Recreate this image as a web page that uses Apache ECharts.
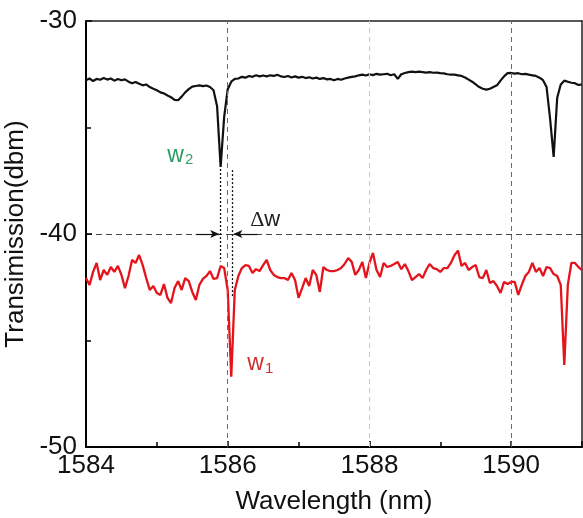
<!DOCTYPE html>
<html><head><meta charset="utf-8">
<script src="https://cdn.jsdelivr.net/npm/echarts@6/dist/echarts.min.js"></script>
<style>html,body{margin:0;padding:0;background:#fff}#c{width:583px;height:518px}</style>
</head><body><div id="c"></div>
<script>
// Sampling grid (nm): 1584 .. 1591 in 0.05 nm steps
const wavelengthStart = 1584;
const wavelengthStep = 0.05;

// Upper (black) trace, dBm
const blackTrace = [
  -32.78,-32.70,-32.82,-32.72,-32.76,-32.68,-32.75,-32.70,-32.80,-32.72,-32.78,
  -32.74,-32.85,-32.92,-32.86,-32.95,-33.02,-32.98,-33.10,-33.18,-33.25,
  -33.35,-33.40,-33.50,-33.58,-33.70,-33.72,-33.55,-33.35,-33.20,-33.08,
  -33.05,-33.02,-33.06,-33.03,-33.10,-33.25,-34.00,-36.85,-34.50,-33.20,
  -32.85,-32.72,-32.70,-32.62,-32.66,-32.58,-32.62,-32.55,-32.60,-32.56,
  -32.60,-32.55,-32.58,-32.52,-32.60,-32.63,-32.58,-32.65,-32.60,-32.66,
  -32.62,-32.68,-32.64,-32.70,-32.66,-32.72,-32.68,-32.74,-32.72,-32.78,
  -32.72,-32.76,-32.70,-32.66,-32.62,-32.60,-32.55,-32.52,-32.56,-32.50,
  -32.54,-32.48,-32.52,-32.50,-32.48,-32.55,-32.50,-32.72,-32.50,-32.44,
  -32.40,-32.38,-32.40,-32.38,-32.40,-32.42,-32.40,-32.43,-32.42,-32.45,
  -32.46,-32.50,-32.52,-32.52,-32.55,-32.58,-32.65,-32.75,-32.85,-32.98,
  -33.10,-33.18,-33.22,-33.18,-33.10,-33.02,-32.80,-32.60,-32.45,-32.44,
  -32.47,-32.45,-32.50,-32.48,-32.52,-32.55,-32.58,-32.66,-32.78,-33.10,
  -34.60,-36.38,-33.60,-32.98,-32.80,-32.85,-32.90,-32.92,-33.00,-32.98
];

// Lower (red) trace, dBm
const redTrace = [
  -42.07,-42.39,-41.78,-41.36,-42.16,-41.69,-41.92,-41.55,-41.78,-41.50,-41.92,
  -42.54,-41.97,-41.22,-41.36,-40.99,-41.46,-42.07,-42.63,-42.44,-42.77,
  -42.86,-42.35,-43.00,-43.24,-42.54,-42.21,-42.63,-42.07,-42.21,-42.72,
  -43.10,-42.39,-42.11,-41.97,-41.74,-42.11,-42.07,-41.50,-41.60,-42.63,
  -46.70,-42.63,-41.97,-41.60,-41.46,-41.50,-41.83,-41.65,-41.74,-41.46,
  -41.22,-41.69,-41.92,-42.02,-42.07,-42.07,-42.16,-41.83,-42.16,-43.00,
  -42.54,-42.07,-42.44,-41.69,-41.92,-42.72,-41.55,-41.69,-41.74,-41.74,
  -41.69,-41.60,-41.41,-41.13,-41.31,-41.92,-41.69,-41.31,-42.07,-41.36,
  -40.89,-41.69,-42.02,-41.36,-41.55,-41.50,-41.41,-41.31,-41.65,-41.41,
  -41.74,-42.16,-42.02,-41.88,-42.07,-41.69,-41.41,-41.60,-41.65,-41.78,
  -41.60,-41.60,-41.36,-41.00,-40.78,-41.50,-41.36,-41.69,-41.55,-41.46,
  -42.02,-42.07,-41.69,-42.30,-42.21,-42.44,-42.77,-42.25,-42.35,-42.25,
  -42.25,-42.86,-42.39,-41.97,-41.78,-41.36,-41.78,-41.60,-41.97,-41.55,
  -41.60,-41.88,-41.97,-42.39,-46.15,-42.39,-41.36,-41.36,-41.55,-41.69
];

// Axis settings
const xRange = [1584, 1591];
const xTickStep = 2;
const yRange = [-50, -30];
const yTickStep = 10;

// Resonance markers (nm) and grid lines
const w2Wavelength = 1585.89;
const w1Wavelength = 1586.07;
const gridWavelengths = [1586, 1588, 1590];

const FONT = "'Liberation Sans', Arial, sans-serif";

function toPairs(values) {
  return values.map((v, i) => [+(wavelengthStart + i * wavelengthStep).toFixed(2), v]);
}

const chart = echarts.init(document.getElementById('c'), null, {renderer: 'canvas'});

const darkDash = {color: '#6a6a6a', type: [5, 4], width: 1};
const lightDash = {color: '#c8c8c8', type: [5, 4], width: 1};
const dotted = {color: '#111', type: [2, 2], width: 1.3};
const arrowStyle = {color: '#111', type: 'solid', width: 1.2};

chart.setOption({
  animation: false,
  backgroundColor: '#fff',
  grid: {left: 86, right: 1, top: 21, bottom: 71, containLabel: false, outerBoundsMode: 'none'},
  xAxis: [{
    type: 'value', min: xRange[0], max: xRange[1], interval: xTickStep,
    position: 'bottom',
    name: 'Wavelength (nm)', nameLocation: 'middle', nameGap: 42,
    nameTextStyle: {fontSize: 26, color: '#111', fontFamily: FONT},
    axisLine: {lineStyle: {color: '#000', width: 2}},
    axisTick: {inside: true, length: 6, lineStyle: {color: '#000', width: 1.5}},
    minorTick: {show: true, splitNumber: 2, length: 5, lineStyle: {color: '#000', width: 1.5}},
    axisLabel: {fontSize: 26, color: '#111', fontFamily: FONT, margin: 6, showMaxLabel: false,
      formatter: v => String(v)},
    splitLine: {show: false}
  }, {
    type: 'value', min: xRange[0], max: xRange[1], position: 'top',
    axisLine: {lineStyle: {color: '#222', width: 1.5}},
    axisTick: {show: false}, axisLabel: {show: false}, splitLine: {show: false}
  }],
  yAxis: [{
    type: 'value', min: yRange[0], max: yRange[1], interval: yTickStep,
    name: 'Transimission(dbm)', nameLocation: 'middle', nameGap: 53,
    nameTextStyle: {fontSize: 26, color: '#111', fontFamily: FONT},
    axisLine: {lineStyle: {color: '#000', width: 2}},
    axisTick: {inside: true, length: 6, lineStyle: {color: '#000', width: 1.5}},
    minorTick: {show: true, splitNumber: 2, length: 5, lineStyle: {color: '#000', width: 1.5}},
    axisLabel: {fontSize: 26, color: '#111', fontFamily: FONT, margin: 9},
    splitLine: {show: true, showMinLine: false, showMaxLine: false,
      lineStyle: {color: '#444', type: [6, 4], width: 1}}
  }, {
    type: 'value', min: yRange[0], max: yRange[1], position: 'right',
    axisLine: {show: true, lineStyle: {color: '#222', width: 1.5}},
    axisTick: {show: false}, axisLabel: {show: false}, splitLine: {show: false}
  }],
  series: [{
    name: 'upper', type: 'line', data: toPairs(blackTrace),
    showSymbol: false, symbol: 'none',
    lineStyle: {color: '#111', width: 2.2},
    z: 3,
    markLine: {
      silent: true, symbol: 'none', animation: false,
      label: {show: false},
      data: [
        {xAxis: gridWavelengths[0], lineStyle: darkDash},
        {xAxis: gridWavelengths[1], lineStyle: lightDash},
        {xAxis: gridWavelengths[2], lineStyle: darkDash},
        [{coord: [w2Wavelength, -36.95], lineStyle: dotted}, {coord: [w2Wavelength, -41.3]}],
        [{coord: [w1Wavelength, -37.0], lineStyle: dotted}, {coord: [w1Wavelength, -43.0]}],
        [{coord: [1585.55, -40], symbol: 'none', lineStyle: arrowStyle},
         {coord: [w2Wavelength - 0.01, -40], symbol: 'arrow', symbolSize: [6, 9]}],
        [{coord: [1586.42, -40], symbol: 'none', lineStyle: arrowStyle},
         {coord: [w1Wavelength + 0.01, -40], symbol: 'arrow', symbolSize: [6, 9]}]
      ]
    },
    markPoint: {
      silent: true, symbol: 'circle', symbolSize: 1,
      itemStyle: {color: 'rgba(0,0,0,0)'},
      data: [
        {coord: [1585.14, -36.3],
         label: {show: true, position: 'right', distance: 0,
           formatter: '{w|w}{s|2}',
           rich: {w: {fontSize: 23, color: '#2a9a62', fontFamily: FONT},
                  s: {fontSize: 15, color: '#3a9f70', fontFamily: FONT, padding: [10, 0, 0, 1]}}}},
        {coord: [1586.31, -39.35],
         label: {show: true, position: 'right', distance: 0,
           formatter: '{d|Δ}{w|w}',
           rich: {d: {fontSize: 22, color: '#222', fontFamily: "'Liberation Serif', serif"},
                  w: {fontSize: 22, color: '#222', fontFamily: FONT}}}}
      ]
    }
  }, {
    name: 'lower', type: 'line', data: toPairs(redTrace),
    showSymbol: false, symbol: 'none',
    lineStyle: {color: '#e3141b', width: 2.3},
    z: 4,
    markPoint: {
      silent: true, symbol: 'circle', symbolSize: 1,
      itemStyle: {color: 'rgba(0,0,0,0)'},
      data: [
        {coord: [1586.27, -46.1],
         label: {show: true, position: 'right', distance: 0,
           formatter: '{w|w}{s|1}',
           rich: {w: {fontSize: 23, color: '#cc3030', fontFamily: FONT},
                  s: {fontSize: 15, color: '#cc3030', fontFamily: FONT, padding: [10, 0, 0, 1]}}}}
      ]
    }
  }]
});
</script>
</body></html>
